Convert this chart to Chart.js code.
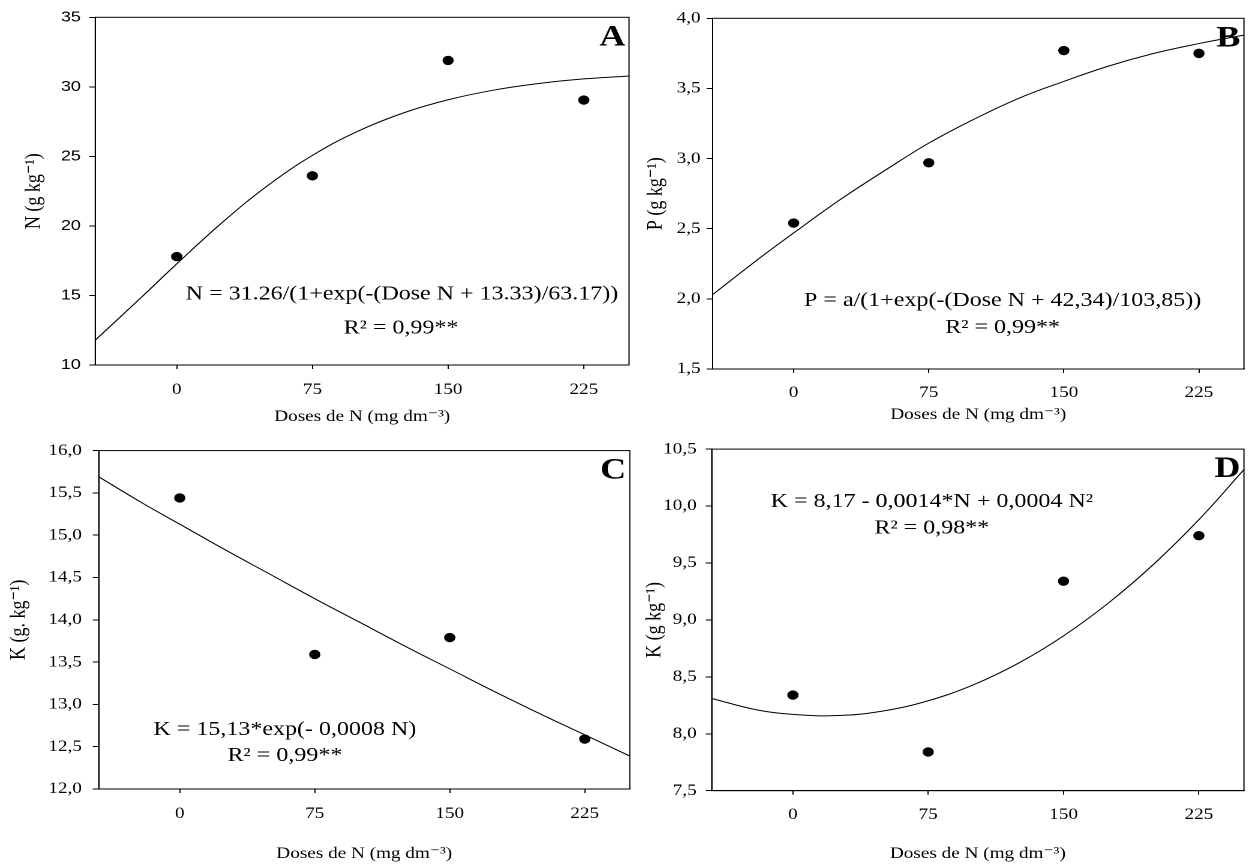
<!DOCTYPE html>
<html>
<head>
<meta charset="utf-8">
<script src="https://cdn.jsdelivr.net/npm/chart.js@4.4.0/dist/chart.umd.min.js"></script>
<style>
  html, body { margin: 0; padding: 0; background: #fff; }
  #fig { position: relative; width: 1250px; height: 864px; overflow: hidden; background: #fff; }
  .panel { position: absolute; height: 432px; transform: scaleX(1.2); transform-origin: 0 0; }
</style>
</head>
<body>
<div id="fig">
  <div class="panel" style="left:0;top:0;width:530px"><canvas id="chartA"></canvas></div>
  <div class="panel" style="left:625px;top:0;width:521px"><canvas id="chartB"></canvas></div>
  <div class="panel" style="left:0;top:432px;width:530px"><canvas id="chartC"></canvas></div>
  <div class="panel" style="left:625px;top:432px;width:521px"><canvas id="chartD"></canvas></div>
</div>
<script>
// --- datos ---
const doses = [0, 75, 150, 225];
const xTicks = [0, 75, 150, 225];

// puntos observados
const nObs = [17.8, 23.6, 31.9, 29.05];
const pObs = [2.54, 2.97, 3.77, 3.75];
const kObsC = [15.44, 13.59, 13.79, 12.59];
const kObsD = [8.34, 7.84, 9.34, 9.74];

// curvas ajustadas
const curveX = [-45, -20, 0, 25, 50, 75, 100, 125, 150, 175, 200, 225, 250];
const nCurve = [11.79, 14.81, 17.27, 20.23, 22.87, 25.07, 26.80, 28.11, 29.07, 29.76, 30.24, 30.57, 30.78];
const pCurve = [2.03, 2.28, 2.47, 2.70, 2.91, 3.11, 3.28, 3.43, 3.55, 3.66, 3.75, 3.82, 3.88];
const kCurveC = [15.69, 15.37, 15.13, 14.83, 14.54, 14.25, 13.97, 13.69, 13.42, 13.15, 12.89, 12.64, 12.39];
const kCurveD = [8.31, 8.21, 8.17, 8.16, 8.20, 8.29, 8.43, 8.62, 8.86, 9.15, 9.49, 9.88, 10.32];

// ticks eje y
const yTicksA = [10, 15, 20, 25, 30, 35];
const yLabelsA = ['10', '15', '20', '25', '30', '35'];
const yTicksB = [1.5, 2.0, 2.5, 3.0, 3.5, 4.0];
const yLabelsB = ['1,5', '2,0', '2,5', '3,0', '3,5', '4,0'];
const yTicksC = [12.0, 12.5, 13.0, 13.5, 14.0, 14.5, 15.0, 15.5, 16.0];
const yLabelsC = ['12,0', '12,5', '13,0', '13,5', '14,0', '14,5', '15,0', '15,5', '16,0'];
const yTicksD = [7.5, 8.0, 8.5, 9.0, 9.5, 10.0, 10.5];
const yLabelsD = ['7,5', '8,0', '8,5', '9,0', '9,5', '10,0', '10,5'];

const SERIF = '"Liberation Serif", "Times New Roman", "DejaVu Serif", serif';
const SANS = '"Liberation Sans", Arial, sans-serif';

// marco, letra del panel y ecuaciones
const notesPlugin = {
  id: 'notes',
  afterDraw(chart, args, opts) {
    const ctx = chart.ctx;
    const a = chart.chartArea;
    const xs = chart.scales.x, ys = chart.scales.y;
    ctx.save();
    ctx.strokeStyle = '#000';
    ctx.lineWidth = 1;
    ctx.strokeRect(a.left, a.top, a.right - a.left, a.bottom - a.top);
    ctx.fillStyle = '#000';
    ctx.font = 'bold 30px ' + SERIF;
    ctx.textAlign = 'right';
    ctx.textBaseline = 'alphabetic';
    ctx.fillText(opts.letter, a.right - 3, a.top + 28);
    ctx.font = '20px ' + SERIF;
    ctx.textAlign = 'center';
    opts.lines.forEach(l => {
      ctx.fillText(l.text, xs.getPixelForValue(l.x), ys.getPixelForValue(l.y));
    });
    ctx.restore();
  }
};

function buildChart(id, p) {
  return new Chart(document.getElementById(id), {
    type: 'scatter',
    data: {
      datasets: [
        {
          data: doses.map((x, i) => ({ x: x, y: p.points[i] })),
          backgroundColor: '#000',
          borderColor: '#000',
          pointRadius: 4.2,
          pointHoverRadius: 4.2
        },
        {
          type: 'line',
          data: curveX.map((x, i) => ({ x: x, y: p.curve[i] })),
          borderColor: '#000',
          borderWidth: 1,
          pointRadius: 0,
          fill: false,
          tension: 0.4
        }
      ]
    },
    options: {
      responsive: true,
      maintainAspectRatio: false,
      animation: false,
      devicePixelRatio: 2,
      layout: { padding: { top: p.padTop, right: p.padRight, left: 0, bottom: 0 } },
      plugins: {
        legend: { display: false },
        tooltip: { enabled: false },
        notes: { letter: p.letter, lines: p.notes }
      },
      scales: {
        x: {
          type: 'linear',
          min: -45,
          max: 250,
          afterBuildTicks: s => { s.ticks = xTicks.map(v => ({ value: v })); },
          afterFit: s => { s.height = p.xAxisH; },
          grid: { display: true, drawOnChartArea: false, drawTicks: true, tickLength: 4, color: '#000' },
          border: { display: true, color: '#000', width: 1 },
          ticks: { color: '#000', padding: p.xTickPad, font: { family: SERIF, size: 16 } },
          title: {
            display: true,
            text: 'Doses de N (mg dm⁻³)',
            color: '#000',
            font: { family: SERIF, size: 16 },
            padding: { top: 0, bottom: p.xTitlePad }
          }
        },
        y: {
          type: 'linear',
          min: p.yTicks[0],
          max: p.yTicks[p.yTicks.length - 1],
          afterBuildTicks: s => { s.ticks = p.yTicks.map(v => ({ value: v })); },
          afterFit: s => { s.width = p.yAxisW; },
          grid: { display: true, drawOnChartArea: false, drawTicks: true, tickLength: 5, color: '#000' },
          border: { display: true, color: '#000', width: 1 },
          ticks: {
            color: '#000',
            padding: p.yTickPad,
            font: p.yTickFont,
            callback: v => p.yLabels[p.yTicks.indexOf(v)]
          },
          title: {
            display: true,
            text: p.yTitle,
            color: '#000',
            font: { family: SERIF, size: 18 },
            padding: { top: p.yTitlePad, bottom: 0 }
          }
        }
      }
    },
    plugins: [notesPlugin]
  });
}

buildChart('chartA', {
  points: nObs, curve: nCurve, yTicks: yTicksA, yLabels: yLabelsA,
  yTitle: 'N (g kg⁻¹)', yTickFont: { family: SANS, size: 15 },
  padTop: 17.3, padRight: 5.8, yAxisW: 79.4, xAxisH: 67,
  xTickPad: 11.4, xTitlePad: 5.4, yTickPad: 7, yTitlePad: 17.5,
  letter: 'A',
  notes: [
    { text: 'N = 31.26/(1+exp(-(Dose N + 13.33)/63.17))', x: 124.5, y: 14.7 },
    { text: 'R² = 0,99**', x: 124, y: 12.28 }
  ]
});

buildChart('chartB', {
  points: pObs, curve: pCurve, yTicks: yTicksB, yLabels: yLabelsB,
  yTitle: 'P (g kg⁻¹)', yTickFont: { family: SERIF, size: 16 },
  padTop: 18.3, padRight: 0, yAxisW: 73, xAxisH: 63,
  xTickPad: 10.4, xTitlePad: 7.4, yTickPad: 5, yTitlePad: 15,
  letter: 'B',
  notes: [
    { text: 'P = a/(1+exp(-(Dose N + 42,34)/103,85))', x: 116, y: 1.95 },
    { text: 'R² = 0,99**', x: 116, y: 1.757 }
  ]
});

buildChart('chartC', {
  points: kObsC, curve: kCurveC, yTicks: yTicksC, yLabels: yLabelsC,
  yTitle: 'K (g. kg⁻¹)', yTickFont: { family: SERIF, size: 16 },
  padTop: 10, padRight: 2.75, yAxisW: 82.3, xAxisH: 75,
  xTickPad: 11.4, xTitlePad: 0.7, yTickPad: 9, yTitlePad: 5,
  letter: 'C',
  notes: [
    { text: 'K = 15,13*exp(- 0,0008 N)', x: 58.4, y: 12.64 },
    { text: 'R² = 0,99**', x: 58.4, y: 12.33 }
  ]
});

buildChart('chartD', {
  points: kObsD, curve: kCurveD, yTicks: yTicksD, yLabels: yLabelsD,
  yTitle: 'K (g kg⁻¹)', yTickFont: { family: SERIF, size: 16 },
  padTop: 11.7, padRight: 4.5, yAxisW: 72.25, xAxisH: 73.3,
  xTickPad: 10.7, xTitlePad: 0.7, yTickPad: 7.5, yTitlePad: 14.2,
  letter: 'D',
  notes: [
    { text: 'K = 8,17 - 0,0014*N + 0,0004 N²', x: 77, y: 9.99 },
    { text: 'R² = 0,98**', x: 77, y: 9.76 }
  ]
});
</script>
</body>
</html>
